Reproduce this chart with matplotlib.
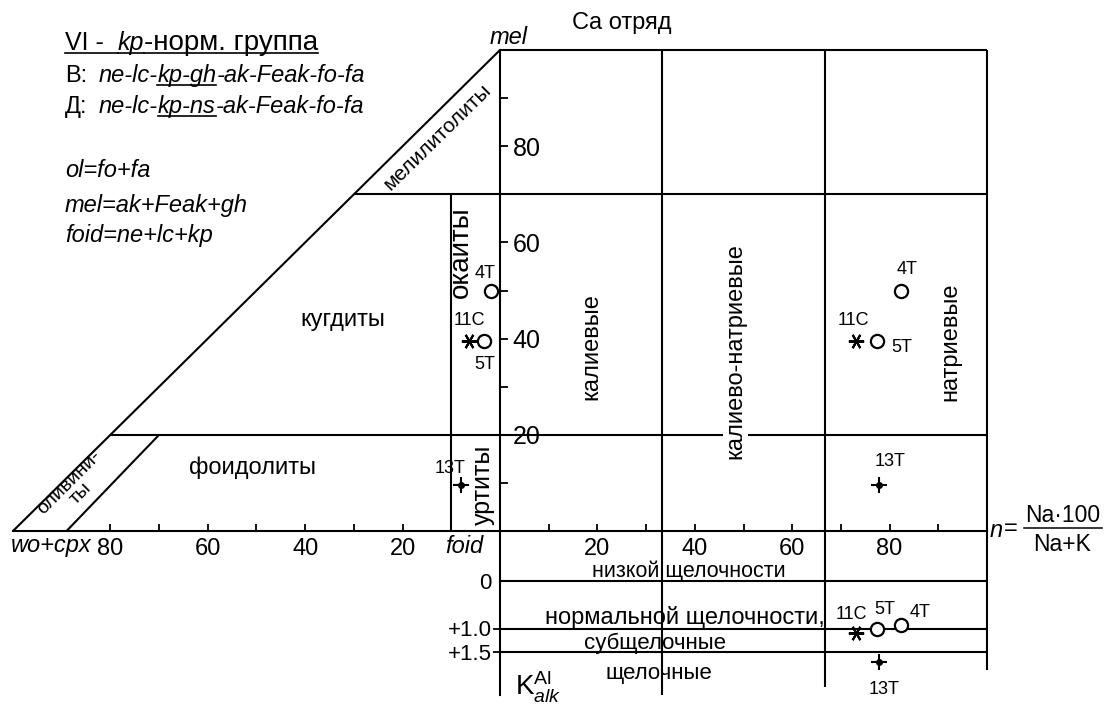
import matplotlib.pyplot as plt
from matplotlib.lines import Line2D
from matplotlib.ticker import FuncFormatter

plt.rcParams['font.family'] = ['Liberation Sans', 'DejaVu Sans']
plt.rcParams['mathtext.fontset'] = 'custom'
plt.rcParams['mathtext.rm'] = 'Liberation Sans'
plt.rcParams['mathtext.it'] = 'Liberation Sans:italic'
plt.rcParams['mathtext.bf'] = 'Liberation Sans:bold'

# --- data -------------------------------------------------------------
samples = ['4T', '5T', '11C', '13T']
wo_cpx = [1.9, 3.3, 6.4, 8.0]        # left triangle (wo+cpx %)
mel = [50.0, 39.6, 39.5, 9.6]        # mel %
n_na = [82.4, 77.4, 73.2, 77.9]      # n = Na*100/(Na+K)
k_alk = [0.93, 1.0, 1.09, 1.70]      # K_alk^Al

mel_lines = [20, 70]                 # horizontal boundaries
foid_line = 10                       # wo+cpx = 10 boundary
olivine_line = [(89, 0), (70, 20)]   # (wo+cpx, mel)
n_bounds = [33.3, 66.7]
kalk_lines = [0, 1.0, 1.5]
kalk_labels = ['0', '+1.0', '+1.5']

mel_major = [20, 40, 60, 80]
mel_minor = [10, 30, 50, 90]
base_major = [-80, -60, -40, -20, 20, 40, 60, 80]
base_minor = [-70, -50, -30, 10, 30, 50, 70, 90]

# --- layout (pixels of the 1104x704 picture) --------------------------
W, H = 1104, 704
X0, SX = 500, 4.87       # x pixel of the mel axis, px per unit
Y0, SY = 531, 4.81       # y pixel of the base line, px per unit
K0, SK = 581, 47.5       # y pixel of K=0, px per unit

fig = plt.figure(figsize=(W / 100, H / 100), dpi=100)
ax = fig.add_axes([0, 0, 1, 1])
ax.set_xlim(-X0 / SX, (W - X0) / SX)
ax.set_ylim((Y0 - H) / SY, Y0 / SY)
ax.patch.set_alpha(0)

ax2 = fig.add_axes([0, 0, 1, 1])
ax2.set_xlim(ax.get_xlim())
ax2.set_ylim((H - K0) / SK, -K0 / SK)
ax2.patch.set_alpha(0)

LW = 1.5
kw = dict(color='k', lw=LW, solid_capstyle='butt')

# main axes: mel axis and base line through spines
for s in ['left', 'top']:
    ax.spines[s].set_visible(False)
ax.spines['right'].set_position(('data', 0))
ax.spines['right'].set_bounds(0, 100)
ax.spines['bottom'].set_position(('data', 0))
ax.spines['bottom'].set_bounds(-100, 100)
for s in ['right', 'bottom']:
    ax.spines[s].set_linewidth(LW)

ax.yaxis.tick_right()
ax.set_yticks(mel_major)
ax.set_yticks(mel_minor, minor=True)
ax.tick_params(axis='y', which='both', direction='out', length=6, width=1.3,
               labelsize=18, pad=3)
for lbl in ax.get_yticklabels():
    lbl.set_bbox(dict(facecolor='white', edgecolor='none', pad=2))

ax.set_xticks(base_major)
ax.set_xticks(base_minor, minor=True)
ax.xaxis.set_major_formatter(FuncFormatter(lambda v, p: f'{abs(v):.0f}'))
ax.tick_params(axis='x', which='both', direction='in', length=5, width=1.3,
               labelsize=17, pad=5)

# triangle and grid
ax.plot([-100, 0], [0, 100], **kw)
ax.plot([0, 100], [100, 100], **kw)
ax.plot([100, 100], [0, 100], **kw)
for nb in n_bounds:
    ax.plot([nb, nb], [0, 100], **kw)
ax.plot([-(100 - mel_lines[1]), 100], [mel_lines[1]] * 2, **kw)
ax.plot([-(100 - mel_lines[0]), 100], [mel_lines[0]] * 2, **kw)
ax.plot([-foid_line, -foid_line], [0, mel_lines[1]], **kw)
ax.plot([-p[0] for p in olivine_line], [p[1] for p in olivine_line], **kw)

# lower (K_alk) part
kb = ax2.transData.inverted().transform(ax.transData.transform((0, 0)))[1]
for s in ['right', 'top', 'bottom']:
    ax2.spines[s].set_visible(False)
ax2.spines['left'].set_position(('data', 0))
ax2.spines['left'].set_bounds(kb, 2.4)
ax2.spines['left'].set_linewidth(LW)
ax2.set_xticks([])
ax2.set_yticks(kalk_lines, labels=kalk_labels)
ax2.tick_params(axis='y', direction='out', length=5, width=1.3, labelsize=16, pad=1)
ax2.yaxis.get_major_ticks()[0].tick1line.set_visible(False)
for k in kalk_lines:
    ax2.plot([0, 100], [k, k], **kw)
ax2.plot([n_bounds[0]] * 2, [kb, 2.4], **kw)
ax2.plot([n_bounds[1]] * 2, [kb, 2.23], **kw)
ax2.plot([100, 100], [kb, 1.87], **kw)

# --- samples ----------------------------------------------------------
circle = dict(marker='o', ms=9.5, mfc='white', mec='k', mew=1.6, ls='none', zorder=5)
star = dict(marker=(6, 2, 30), ms=11, mec='k', mew=1.5, ls='none', zorder=5)
plus = dict(marker='+', ms=11, mec='k', mew=1.5, ls='none', zorder=5)
mstyle = {'4T': circle, '5T': circle, '11C': star, '13T': plus}

off_left = {'4T': (-6, 17), '5T': (1, -24), '11C': (1, 21), '13T': (-11, 16)}
off_right = {'4T': (6, 21), '5T': (25, -7), '11C': (-3, 21), '13T': (11, 23)}
off_low = {'4T': (19, 13), '5T': (8, 19), '11C': (-5, 18), '13T': (5, -28)}


def put(axis, x, y, name, off):
    axis.plot([x], [y], **mstyle[name])
    if name == '13T':
        axis.plot([x], [y], marker='o', ms=4, color='k', ls='none', zorder=6)
    axis.annotate(name, (x, y), xytext=off, textcoords='offset pixels',
                  ha='center', va='center', fontsize=13)


for i, name in enumerate(samples):
    put(ax, -wo_cpx[i], mel[i], name, off_left[name])
    put(ax, n_na[i], mel[i], name, off_right[name])
    put(ax2, n_na[i], k_alk[i], name, off_low[name])

# --- field names --------------------------------------------------------
ax.text(-12.9, 81.9, 'мелилитолиты', rotation=44.6, fontsize=15,
        ha='center', va='center', rotation_mode='anchor')
ax.text(-87.3, 8.9, 'оливини-\nты', rotation=45, fontsize=14, linespacing=0.85,
        ha='center', va='center', rotation_mode='anchor')
ax.text(-32.2, 43.9, 'кугдиты', fontsize=17, ha='center', va='center')
ax.text(-50.9, 13.1, 'фоидолиты', fontsize=17, ha='center', va='center')
ax.text(-8.0, 58.0, 'окаиты', rotation=90, fontsize=20, ha='center', va='center')
ax.text(-3.5, 9.6, 'уртиты', rotation=90, fontsize=18, ha='center', va='center')
ax.text(18.7, 38.3, 'калиевые', rotation=90, fontsize=17, ha='center', va='center')
ax.text(48.3, 37.4, 'калиево-натриевые', rotation=90, fontsize=17,
        ha='center', va='center',
        bbox=dict(facecolor='white', edgecolor='none', pad=1))
ax.text(92.4, 39.3, 'натриевые', rotation=90, fontsize=17, ha='center', va='center')

ax.text(1.8, 102.7, 'mel', style='italic', fontsize=17, ha='center', va='center')
ax.text(24.9, 105.6, 'Ca отряд', fontsize=17, ha='center', va='center')
ax.text(-100.5, -3.1, 'wo+cpx', style='italic', fontsize=17, ha='left', va='center')
ax.text(-7.4, -3.3, 'foid', style='italic', fontsize=17, ha='center', va='center')

# n = Na*100 / (Na+K), written as a stacked fraction
ax.text(100.6, 0.2, 'n', style='italic', fontsize=17, ha='left', va='center')
ax.text(103.4, 0.4, '=', fontsize=17, ha='left', va='center')
ax.text(115.6, 3.3, 'Na·100', fontsize=16.5, ha='center', va='center')
ax.text(115.4, -2.8, 'Na+K', fontsize=16.5, ha='center', va='center')
ax.plot([107.6, 123.6], [0.6, 0.6], color='k', lw=1.1)

ax2.text(38.8, -0.2, 'низкой щелочности', fontsize=15.5, ha='center', va='center')
ax2.text(38.0, 0.76, 'нормальной щелочности,', fontsize=17, ha='center', va='center')
ax2.text(31.8, 1.31, 'субщелочные', fontsize=16, ha='center', va='center')
ax2.text(32.6, 1.94, 'щелочные', fontsize=16, ha='center', va='center')
ax2.text(3.0, 2.39, r'$\mathrm{K}^{\mathrm{Al}}_{alk}$', fontsize=20,
         ha='left', va='baseline')

# --- header block ------------------------------------------------------
renderer = fig.canvas.get_renderer()


def runs(x, y, parts):
    for txt, style, under, gap, size in parts:
        t = fig.text(x / W, 1 - y / H, txt, fontsize=size, style=style,
                     va='baseline', ha='left')
        w = t.get_window_extent(renderer).width
        if under:
            fig.add_artist(Line2D([x / W, (x + w + gap) / W], [1 - (y + 3) / H] * 2,
                                  color='k', lw=1.2))
        x += w + gap


runs(65, 50, [('VI -', 'normal', True, 14, 18), ('kp', 'italic', True, 0, 18),
              ('-норм. группа', 'normal', True, 0, 20)])
runs(65, 82, [('В:', 'normal', False, 11, 17), ('ne-lc-', 'italic', False, 0, 17),
              ('kp-gh', 'italic', True, 0, 17), ('-ak-Feak-fo-fa', 'italic', False, 0, 17)])
runs(65, 113, [('Д:', 'normal', False, 11, 17), ('ne-lc-', 'italic', False, 0, 17),
               ('kp-ns', 'italic', True, 0, 17), ('-ak-Feak-fo-fa', 'italic', False, 0, 17)])
for yy, s in [(177, 'ol=fo+fa'), (212, 'mel=ak+Feak+gh'), (242, 'foid=ne+lc+kp')]:
    fig.text(65 / W, 1 - yy / H, s, fontsize=17, style='italic', va='baseline')

fig.savefig('out.png', dpi=100)
